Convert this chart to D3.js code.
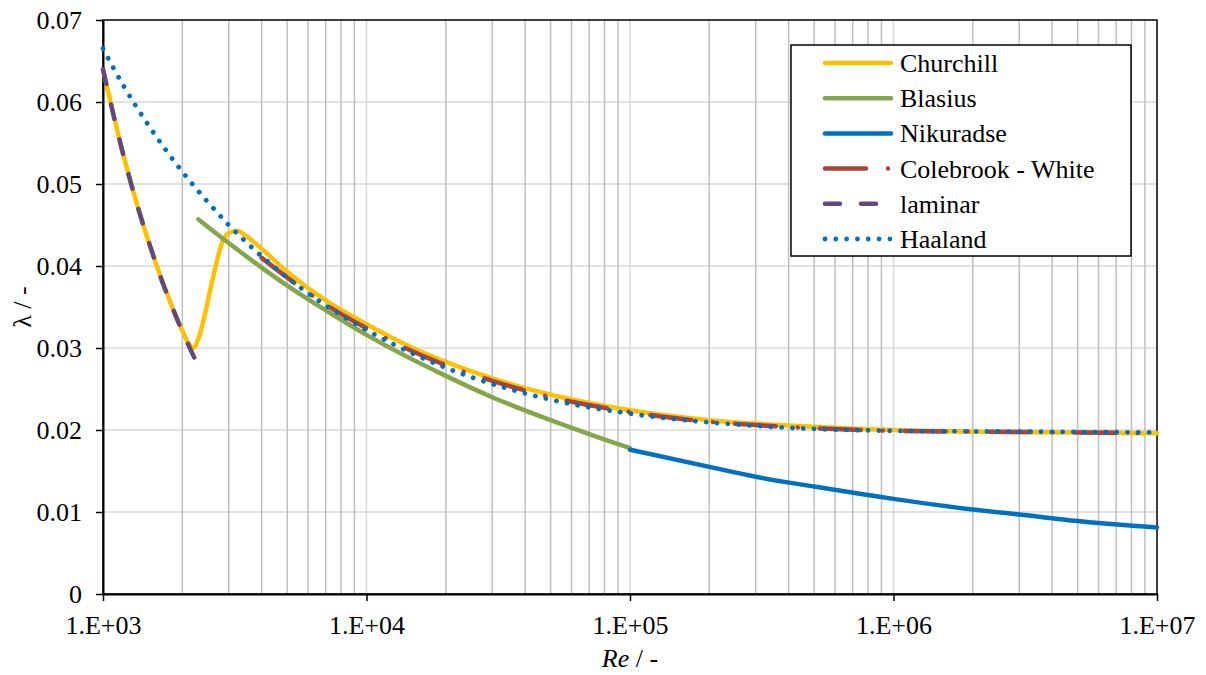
<!DOCTYPE html>
<html>
<head>
<meta charset="utf-8">
<script src="https://cdn.jsdelivr.net/npm/d3@7"></script>
</head>
<body style="margin:0;background:#fff">
<svg id="chart" width="1206" height="675" style="display:block"></svg>
<script>
// values (Re, lambda)
var reTicks = [1e3, 1e4, 1e5, 1e6, 1e7];
var lamTicks = [0, 0.01, 0.02, 0.03, 0.04, 0.05, 0.06, 0.07];

var churchillRe = [1000, 1200, 1400, 1600, 1800, 2000, 2100, 2200, 2300, 2440, 2620, 2860, 3000, 3220, 3510, 4000, 5000, 7000, 10000, 15000, 20000, 30000, 50000, 70000, 1e5, 2e5, 5e5, 1e6, 2e6, 5e6, 1e7];
var churchillLam = [0.064, 0.0533, 0.0457, 0.040, 0.0356, 0.0321, 0.0307, 0.0300, 0.0311, 0.0342, 0.0387, 0.0432, 0.0440, 0.0443, 0.0436, 0.0421, 0.0393, 0.0358, 0.0329, 0.0300, 0.0283, 0.0263, 0.0243, 0.0233, 0.0224, 0.0212, 0.0204, 0.0200, 0.0198, 0.0197, 0.0196];

var blasiusRe = [2300, 3000, 4000, 5000, 7000, 10000, 20000, 30000, 50000, 70000, 1e5];
var blasiusLam = [0.0457, 0.0428, 0.0398, 0.0376, 0.0346, 0.0316, 0.0266, 0.0240, 0.0212, 0.0195, 0.0178];

var nikuradseRe = [1e5, 2e5, 3e5, 5e5, 1e6, 2e6, 3e6, 5e6, 1e7];
var nikuradseLam = [0.0176, 0.0155, 0.0143, 0.0131, 0.0116, 0.0103, 0.0097, 0.0089, 0.0081];

var colebrookRe = [4000, 5000, 7000, 10000, 20000, 30000, 50000, 1e5, 2e5, 3e5, 5e5, 1e6, 2e6, 5e6, 1e7];
var colebrookLam = [0.0410, 0.0386, 0.0353, 0.0324, 0.0279, 0.0260, 0.0240, 0.0222, 0.0210, 0.0206, 0.0202, 0.0199, 0.0198, 0.0197, 0.0196];

var laminarRe = [1000, 1100, 1200, 1300, 1400, 1500, 1600, 1700, 1800, 1900, 2000, 2100, 2200, 2300];
var laminarLam = [0.064, 0.0582, 0.0533, 0.0492, 0.0457, 0.0427, 0.040, 0.0376, 0.0356, 0.0337, 0.032, 0.0305, 0.0291, 0.0278];

var haalandRe = [1000, 1200, 1500, 2000, 2500, 3000, 4000, 5000, 7000, 10000, 15000, 20000, 50000, 1e5, 3e5, 1e6, 3e6, 1e7];
var haalandLam = [0.0665, 0.0619, 0.0570, 0.0515, 0.0478, 0.0450, 0.0412, 0.0386, 0.0352, 0.0322, 0.0293, 0.0276, 0.0237, 0.0220, 0.0205, 0.0199, 0.0198, 0.0197];

var plot = {left: 103, right: 1157, top: 20, bottom: 594};
var FONT = "'Liberation Serif', 'Times New Roman', serif";

var svg = d3.select("#chart");

var x = d3.scaleLog().domain([1e3, 1e7]).range([plot.left, plot.right]);
var y = d3.scaleLinear().domain([0, 0.07]).range([plot.bottom, plot.top]);

// grid
var minor = [];
for (var d = 1e3; d < 1e7; d *= 10) {
    for (var k = 2; k <= 9; k++) minor.push(d * k);
}
svg.append("g").selectAll("line")
    .data(lamTicks.slice(1, -1))
    .enter().append("line")
    .attr("x1", plot.left).attr("x2", plot.right)
    .attr("y1", function(d) { return y(d); })
    .attr("y2", function(d) { return y(d); })
    .attr("stroke", "#d9d9d9").attr("stroke-width", 1.5);
svg.append("g").selectAll("line")
    .data(minor)
    .enter().append("line")
    .attr("x1", function(d) { return x(d); })
    .attr("x2", function(d) { return x(d); })
    .attr("y1", plot.top).attr("y2", plot.bottom)
    .attr("stroke", "#bfbfbf").attr("stroke-width", 1.5);
svg.append("g").selectAll("line")
    .data(reTicks.slice(1, -1))
    .enter().append("line")
    .attr("x1", function(d) { return x(d); })
    .attr("x2", function(d) { return x(d); })
    .attr("y1", plot.top).attr("y2", plot.bottom)
    .attr("stroke", "#d9d9d9").attr("stroke-width", 1.5);

svg.append("rect")
    .attr("x", plot.left).attr("y", plot.top)
    .attr("width", plot.right - plot.left).attr("height", plot.bottom - plot.top)
    .attr("fill", "none").attr("stroke", "#000").attr("stroke-width", 1.5);

// axes
var yAxis = svg.append("g")
    .attr("transform", "translate(" + plot.left + ",0)")
    .call(d3.axisLeft(y).tickValues(lamTicks).tickSize(7).tickSizeOuter(0).tickPadding(14)
        .tickFormat(function(d) { return d === 0 ? "0" : d3.format(".2f")(d); }));
var xAxis = svg.append("g")
    .attr("transform", "translate(0," + plot.bottom + ")")
    .call(d3.axisBottom(x).tickValues(reTicks).tickSize(7).tickSizeOuter(0).tickPadding(15)
        .tickFormat(function(d) { return "1.E+" + String(Math.round(Math.log10(d))).padStart(2, "0"); }));
[xAxis, yAxis].forEach(function(ax) {
    ax.attr("font-family", FONT).attr("font-size", 26);
    ax.select(".domain").attr("stroke", "#000").attr("stroke-width", 2);
    ax.selectAll(".tick line").attr("stroke", "#000").attr("stroke-width", 1.5);
    ax.selectAll(".tick text").attr("fill", "#000")
        .style("font-family", FONT).style("font-size", "26px");
});

svg.append("text")
    .attr("transform", "translate(31," + (plot.top + plot.bottom) / 2 + ") rotate(-90)")
    .attr("text-anchor", "middle")
    .style("font-family", FONT).style("font-size", "26px")
    .text("λ / -");

var xt = svg.append("text")
    .attr("x", (plot.left + plot.right) / 2)
    .attr("y", 667)
    .attr("text-anchor", "middle")
    .style("font-family", FONT).style("font-size", "26px");
xt.append("tspan").style("font-style", "italic").text("Re");
xt.append("tspan").text(" / -");

// series
var series = [
    {name: "Churchill", re: churchillRe, lam: churchillLam, color: "#ffc000", dash: null, w: 4.5},
    {name: "Blasius", re: blasiusRe, lam: blasiusLam, color: "#86a64a", dash: null, w: 4.5},
    {name: "Nikuradse", re: nikuradseRe, lam: nikuradseLam, color: "#0070c0", dash: null, w: 4.5},
    {name: "Colebrook - White", re: colebrookRe, lam: colebrookLam, color: "#a9433c", dash: "41,22,0.01,22", w: 4.5},
    {name: "laminar", re: laminarRe, lam: laminarLam, color: "#604a7b", dash: "15,21", w: 4.5},
    {name: "Haaland", re: haalandRe, lam: haalandLam, color: "#0070c0", dash: "0.01,10.8", w: 4.8}
];

var line = d3.line()
    .x(function(d) { return x(d[0]); })
    .y(function(d) { return y(d[1]); })
    .curve(d3.curveMonotoneX);

series.forEach(function(s) {
    svg.append("path")
        .datum(d3.zip(s.re, s.lam))
        .attr("fill", "none")
        .attr("stroke", s.color)
        .attr("stroke-width", s.w)
        .attr("stroke-linecap", "round")
        .attr("stroke-dasharray", s.dash)
        .attr("d", line);
});

// legend
var legend = svg.append("g");
legend.append("rect")
    .attr("x", 791).attr("y", 45)
    .attr("width", 340).attr("height", 211)
    .attr("fill", "#fff").attr("stroke", "#000").attr("stroke-width", 1.5);
var items = legend.selectAll("g.item")
    .data(series)
    .enter().append("g")
    .attr("transform", function(d, i) { return "translate(0," + (63 + i * 35.2) + ")"; });
items.append("line")
    .attr("x1", 825).attr("x2", 891)
    .attr("stroke", function(d) { return d.color; })
    .attr("stroke-width", function(d) { return d.w; })
    .attr("stroke-linecap", "round")
    .attr("stroke-dasharray", function(d) { return d.dash; });
items.append("text")
    .attr("x", 900).attr("y", 9)
    .style("font-family", FONT).style("font-size", "26px")
    .text(function(d) { return d.name; });
</script>
</body>
</html>
